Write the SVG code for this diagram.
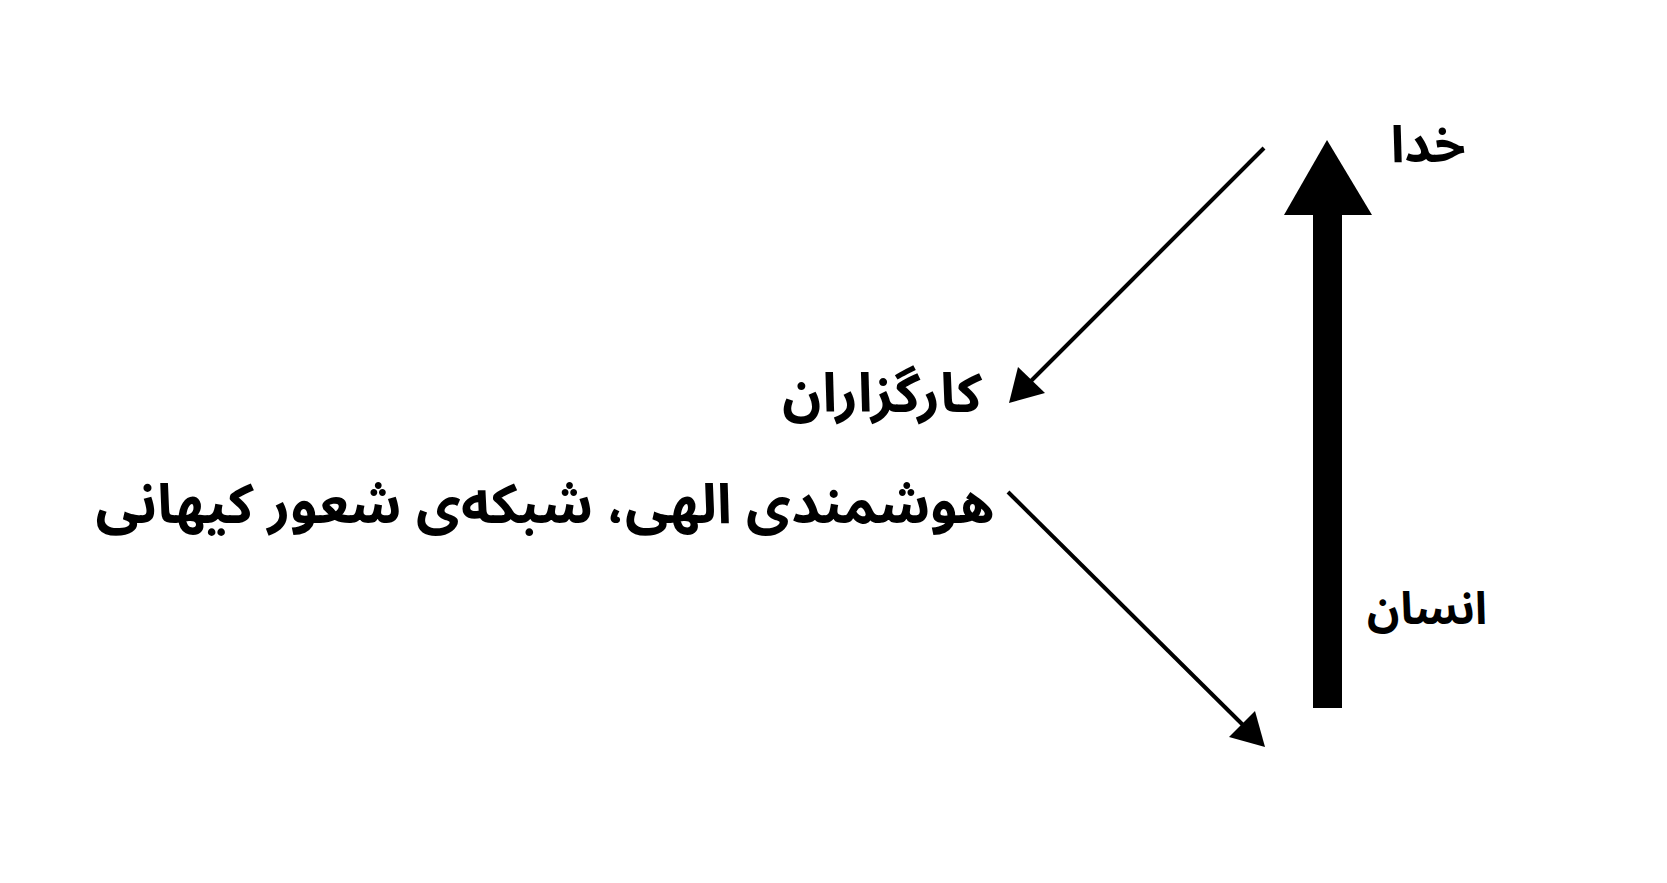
<svg xmlns="http://www.w3.org/2000/svg" width="1667" height="883" viewBox="0 0 1667 883">
<style>
.t{font-family:"Noto Sans Arabic","DejaVu Sans",sans-serif;font-weight:bold;fill:#000;text-anchor:middle}
.ln{stroke:#000;stroke-width:4;fill:none}
.hd{fill:#000}
</style>
<rect width="1667" height="883" fill="#fff"/>
<g id="connectors">
<line class="ln" x1="1264" y1="148" x2="1030" y2="382"/>
<polygon class="hd" points="1009,403 1018,367 1045,393"/>
<line class="ln" x1="1008" y1="492" x2="1245" y2="727"/>
<polygon class="hd" points="1265,747 1229,737 1255,711"/>
<rect class="hd" x="1313" y="214" width="29" height="494"/>
<polygon class="hd" points="1327,140 1284,215 1372,215"/>
</g>
<g id="node-khoda"><text class="t" x="1428" y="162" font-size="51">خدا</text></g>
<g id="node-kargozaran"><text class="t" x="882" y="412" font-size="54">کارگزاران</text></g>
<g id="node-hoshmandi"><text class="t" x="545" y="523" font-size="55">هوشمندی الهی، شبکه‌ی شعور کیهانی</text></g>
<g id="node-ensan"><text class="t" x="1427" y="624" font-size="45">انسان</text></g>
</svg>
